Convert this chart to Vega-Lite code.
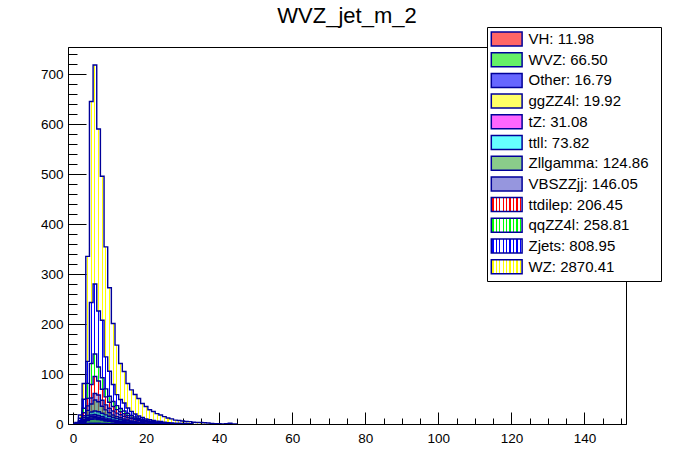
{
  "$schema": "https://vega.github.io/schema/vega-lite/v6.json",
  "description": "WVZ_jet_m_2 stacked histogram",
  "width": 558,
  "height": 377,
  "autosize": "none",
  "padding": {"left": 68, "top": 47, "right": 70, "bottom": 48},
  "background": "white",
  "title": {"text": "WVZ_jet_m_2", "fontSize": 22, "fontWeight": "normal", "color": "black", "anchor": "middle", "baseline": "alphabetic", "offset": -18},
  "datasets": {
    "series": [
      {"s": "VH", "k": 1}, {"s": "WVZ", "k": 2}, {"s": "Other", "k": 3}, {"s": "ggZZ4l", "k": 4},
      {"s": "tZ", "k": 5}, {"s": "ttll", "k": 6}, {"s": "Zllgamma", "k": 7}, {"s": "VBSZZjj", "k": 8},
      {"s": "ttdilep", "k": 9}, {"s": "qqZZ4l", "k": 10}, {"s": "Zjets", "k": 11}, {"s": "WZ", "k": 12}
    ]
  },
  "data": {
    "values": [
      {"s":"VH","b":0,"v":0},{"s":"VH","b":1,"v":0},{"s":"VH","b":2,"v":0.2},{"s":"VH","b":3,"v":0.5},{"s":"VH","b":4,"v":1},{"s":"VH","b":5,"v":1.5},{"s":"VH","b":6,"v":1.6},{"s":"VH","b":7,"v":1.4},{"s":"VH","b":8,"v":1.2},{"s":"VH","b":9,"v":1},{"s":"VH","b":10,"v":0.8},{"s":"VH","b":11,"v":0.7},{"s":"VH","b":12,"v":0.6},{"s":"VH","b":13,"v":0.5},{"s":"VH","b":14,"v":0.4},{"s":"VH","b":15,"v":0.3},{"s":"VH","b":16,"v":0.2},{"s":"VH","b":17,"v":0.1},{"s":"VH","b":18,"v":0},
      {"s":"WVZ","b":0,"v":0},{"s":"WVZ","b":1,"v":0},{"s":"WVZ","b":2,"v":1},{"s":"WVZ","b":3,"v":3},{"s":"WVZ","b":4,"v":6},{"s":"WVZ","b":5,"v":8},{"s":"WVZ","b":6,"v":8.5},{"s":"WVZ","b":7,"v":7.5},{"s":"WVZ","b":8,"v":6.5},{"s":"WVZ","b":9,"v":5},{"s":"WVZ","b":10,"v":4.5},{"s":"WVZ","b":11,"v":3.5},{"s":"WVZ","b":12,"v":3},{"s":"WVZ","b":13,"v":2.5},{"s":"WVZ","b":14,"v":2},{"s":"WVZ","b":15,"v":1.5},{"s":"WVZ","b":16,"v":1.2},{"s":"WVZ","b":17,"v":1},{"s":"WVZ","b":18,"v":0.8},{"s":"WVZ","b":19,"v":0.6},{"s":"WVZ","b":20,"v":0.5},{"s":"WVZ","b":21,"v":0},
      {"s":"Other","b":0,"v":0},{"s":"Other","b":1,"v":0},{"s":"Other","b":2,"v":0},{"s":"Other","b":3,"v":1},{"s":"Other","b":4,"v":2},{"s":"Other","b":5,"v":2.5},{"s":"Other","b":6,"v":2.5},{"s":"Other","b":7,"v":2},{"s":"Other","b":8,"v":1.7},{"s":"Other","b":9,"v":1.3},{"s":"Other","b":10,"v":1},{"s":"Other","b":11,"v":0.8},{"s":"Other","b":12,"v":0.6},{"s":"Other","b":13,"v":0.5},{"s":"Other","b":14,"v":0.4},{"s":"Other","b":15,"v":0.3},{"s":"Other","b":16,"v":0.2},{"s":"Other","b":17,"v":0},
      {"s":"ggZZ4l","b":0,"v":0},{"s":"ggZZ4l","b":1,"v":0},{"s":"ggZZ4l","b":2,"v":0.3},{"s":"ggZZ4l","b":3,"v":1},{"s":"ggZZ4l","b":4,"v":2.2},{"s":"ggZZ4l","b":5,"v":3},{"s":"ggZZ4l","b":6,"v":3},{"s":"ggZZ4l","b":7,"v":2.5},{"s":"ggZZ4l","b":8,"v":2},{"s":"ggZZ4l","b":9,"v":1.6},{"s":"ggZZ4l","b":10,"v":1.2},{"s":"ggZZ4l","b":11,"v":1},{"s":"ggZZ4l","b":12,"v":0.7},{"s":"ggZZ4l","b":13,"v":0.5},{"s":"ggZZ4l","b":14,"v":0.4},{"s":"ggZZ4l","b":15,"v":0.3},{"s":"ggZZ4l","b":16,"v":0.2},{"s":"ggZZ4l","b":17,"v":0},
      {"s":"tZ","b":0,"v":0},{"s":"tZ","b":1,"v":0},{"s":"tZ","b":2,"v":0},{"s":"tZ","b":3,"v":1},{"s":"tZ","b":4,"v":2},{"s":"tZ","b":5,"v":3},{"s":"tZ","b":6,"v":3.5},{"s":"tZ","b":7,"v":3.5},{"s":"tZ","b":8,"v":3.2},{"s":"tZ","b":9,"v":2.8},{"s":"tZ","b":10,"v":2.4},{"s":"tZ","b":11,"v":2},{"s":"tZ","b":12,"v":1.7},{"s":"tZ","b":13,"v":1.4},{"s":"tZ","b":14,"v":1.2},{"s":"tZ","b":15,"v":1},{"s":"tZ","b":16,"v":0.8},{"s":"tZ","b":17,"v":0.6},{"s":"tZ","b":18,"v":0.5},{"s":"tZ","b":19,"v":0.3},{"s":"tZ","b":20,"v":0},
      {"s":"ttll","b":0,"v":0},{"s":"ttll","b":1,"v":0},{"s":"ttll","b":2,"v":0},{"s":"ttll","b":3,"v":2},{"s":"ttll","b":4,"v":4},{"s":"ttll","b":5,"v":6},{"s":"ttll","b":6,"v":7},{"s":"ttll","b":7,"v":7.5},{"s":"ttll","b":8,"v":7},{"s":"ttll","b":9,"v":6.5},{"s":"ttll","b":10,"v":5.5},{"s":"ttll","b":11,"v":5},{"s":"ttll","b":12,"v":4.2},{"s":"ttll","b":13,"v":3.6},{"s":"ttll","b":14,"v":3},{"s":"ttll","b":15,"v":2.6},{"s":"ttll","b":16,"v":2.2},{"s":"ttll","b":17,"v":1.8},{"s":"ttll","b":18,"v":1.5},{"s":"ttll","b":19,"v":1.2},{"s":"ttll","b":20,"v":1},{"s":"ttll","b":21,"v":0.8},{"s":"ttll","b":22,"v":0.6},{"s":"ttll","b":23,"v":0.5},{"s":"ttll","b":24,"v":0.3},{"s":"ttll","b":25,"v":0},
      {"s":"Zllgamma","b":0,"v":0},{"s":"Zllgamma","b":1,"v":0},{"s":"Zllgamma","b":2,"v":1},{"s":"Zllgamma","b":3,"v":4},{"s":"Zllgamma","b":4,"v":10},{"s":"Zllgamma","b":5,"v":16},{"s":"Zllgamma","b":6,"v":22},{"s":"Zllgamma","b":7,"v":20},{"s":"Zllgamma","b":8,"v":14},{"s":"Zllgamma","b":9,"v":10},{"s":"Zllgamma","b":10,"v":7},{"s":"Zllgamma","b":11,"v":5},{"s":"Zllgamma","b":12,"v":4},{"s":"Zllgamma","b":13,"v":3.6},{"s":"Zllgamma","b":14,"v":2.5},{"s":"Zllgamma","b":15,"v":2},{"s":"Zllgamma","b":16,"v":1.5},{"s":"Zllgamma","b":17,"v":1},{"s":"Zllgamma","b":18,"v":0.8},{"s":"Zllgamma","b":19,"v":0.5},{"s":"Zllgamma","b":20,"v":0},
      {"s":"VBSZZjj","b":0,"v":0},{"s":"VBSZZjj","b":1,"v":0},{"s":"VBSZZjj","b":2,"v":1},{"s":"VBSZZjj","b":3,"v":4},{"s":"VBSZZjj","b":4,"v":9},{"s":"VBSZZjj","b":5,"v":12},{"s":"VBSZZjj","b":6,"v":13},{"s":"VBSZZjj","b":7,"v":13.5},{"s":"VBSZZjj","b":8,"v":12},{"s":"VBSZZjj","b":9,"v":10},{"s":"VBSZZjj","b":10,"v":9},{"s":"VBSZZjj","b":11,"v":8},{"s":"VBSZZjj","b":12,"v":7},{"s":"VBSZZjj","b":13,"v":6},{"s":"VBSZZjj","b":14,"v":5.5},{"s":"VBSZZjj","b":15,"v":5},{"s":"VBSZZjj","b":16,"v":4.5},{"s":"VBSZZjj","b":17,"v":4},{"s":"VBSZZjj","b":18,"v":3.5},{"s":"VBSZZjj","b":19,"v":3},{"s":"VBSZZjj","b":20,"v":2.5},{"s":"VBSZZjj","b":21,"v":2.2},{"s":"VBSZZjj","b":22,"v":2},{"s":"VBSZZjj","b":23,"v":1.8},{"s":"VBSZZjj","b":24,"v":1.5},{"s":"VBSZZjj","b":25,"v":1.3},{"s":"VBSZZjj","b":26,"v":1.1},{"s":"VBSZZjj","b":27,"v":1},{"s":"VBSZZjj","b":28,"v":0.8},{"s":"VBSZZjj","b":29,"v":0.6},{"s":"VBSZZjj","b":30,"v":0.5},{"s":"VBSZZjj","b":31,"v":0.4},{"s":"VBSZZjj","b":32,"v":0.3},{"s":"VBSZZjj","b":33,"v":0},
      {"s":"ttdilep","b":0,"v":0},{"s":"ttdilep","b":1,"v":0},{"s":"ttdilep","b":2,"v":1},{"s":"ttdilep","b":3,"v":6},{"s":"ttdilep","b":4,"v":15},{"s":"ttdilep","b":5,"v":27},{"s":"ttdilep","b":6,"v":34},{"s":"ttdilep","b":7,"v":28},{"s":"ttdilep","b":8,"v":22},{"s":"ttdilep","b":9,"v":16},{"s":"ttdilep","b":10,"v":12},{"s":"ttdilep","b":11,"v":9},{"s":"ttdilep","b":12,"v":7},{"s":"ttdilep","b":13,"v":6},{"s":"ttdilep","b":14,"v":5},{"s":"ttdilep","b":15,"v":4},{"s":"ttdilep","b":16,"v":3},{"s":"ttdilep","b":17,"v":2.5},{"s":"ttdilep","b":18,"v":2},{"s":"ttdilep","b":19,"v":1.7},{"s":"ttdilep","b":20,"v":1.4},{"s":"ttdilep","b":21,"v":1.1},{"s":"ttdilep","b":22,"v":0.9},{"s":"ttdilep","b":23,"v":0.7},{"s":"ttdilep","b":24,"v":0.5},{"s":"ttdilep","b":25,"v":0.4},{"s":"ttdilep","b":26,"v":0},
      {"s":"qqZZ4l","b":0,"v":0},{"s":"qqZZ4l","b":1,"v":0},{"s":"qqZZ4l","b":2,"v":2},{"s":"qqZZ4l","b":3,"v":9},{"s":"qqZZ4l","b":4,"v":30},{"s":"qqZZ4l","b":5,"v":42},{"s":"qqZZ4l","b":6,"v":45},{"s":"qqZZ4l","b":7,"v":28},{"s":"qqZZ4l","b":8,"v":23},{"s":"qqZZ4l","b":9,"v":16},{"s":"qqZZ4l","b":10,"v":12},{"s":"qqZZ4l","b":11,"v":10},{"s":"qqZZ4l","b":12,"v":8},{"s":"qqZZ4l","b":13,"v":6.5},{"s":"qqZZ4l","b":14,"v":5.5},{"s":"qqZZ4l","b":15,"v":4.5},{"s":"qqZZ4l","b":16,"v":3.5},{"s":"qqZZ4l","b":17,"v":3},{"s":"qqZZ4l","b":18,"v":2.5},{"s":"qqZZ4l","b":19,"v":2},{"s":"qqZZ4l","b":20,"v":1.6},{"s":"qqZZ4l","b":21,"v":1.3},{"s":"qqZZ4l","b":22,"v":1},{"s":"qqZZ4l","b":23,"v":0.8},{"s":"qqZZ4l","b":24,"v":0.6},{"s":"qqZZ4l","b":25,"v":0.5},{"s":"qqZZ4l","b":26,"v":0},
      {"s":"Zjets","b":0,"v":0},{"s":"Zjets","b":1,"v":1},{"s":"Zjets","b":2,"v":5},{"s":"Zjets","b":3,"v":18},{"s":"Zjets","b":4,"v":44},{"s":"Zjets","b":5,"v":122},{"s":"Zjets","b":6,"v":140},{"s":"Zjets","b":7,"v":112},{"s":"Zjets","b":8,"v":115},{"s":"Zjets","b":9,"v":64},{"s":"Zjets","b":10,"v":50},{"s":"Zjets","b":11,"v":34},{"s":"Zjets","b":12,"v":22},{"s":"Zjets","b":13,"v":18},{"s":"Zjets","b":14,"v":16},{"s":"Zjets","b":15,"v":10.5},{"s":"Zjets","b":16,"v":8},{"s":"Zjets","b":17,"v":6},{"s":"Zjets","b":18,"v":4.5},{"s":"Zjets","b":19,"v":3.7},{"s":"Zjets","b":20,"v":3},{"s":"Zjets","b":21,"v":3},{"s":"Zjets","b":22,"v":2.5},{"s":"Zjets","b":23,"v":2},{"s":"Zjets","b":24,"v":2},{"s":"Zjets","b":25,"v":1.5},{"s":"Zjets","b":26,"v":1.5},{"s":"Zjets","b":27,"v":1.2},{"s":"Zjets","b":28,"v":1},{"s":"Zjets","b":29,"v":0.8},{"s":"Zjets","b":30,"v":0.6},{"s":"Zjets","b":31,"v":0.5},{"s":"Zjets","b":32,"v":0.4},{"s":"Zjets","b":33,"v":0},
      {"s":"WZ","b":0,"v":0},{"s":"WZ","b":1,"v":2},{"s":"WZ","b":2,"v":6.5},{"s":"WZ","b":3,"v":31.5},{"s":"WZ","b":4,"v":210},{"s":"WZ","b":5,"v":402},{"s":"WZ","b":6,"v":438},{"s":"WZ","b":7,"v":364},{"s":"WZ","b":8,"v":288},{"s":"WZ","b":9,"v":220},{"s":"WZ","b":10,"v":167},{"s":"WZ","b":11,"v":122},{"s":"WZ","b":12,"v":99},{"s":"WZ","b":13,"v":72},{"s":"WZ","b":14,"v":63},{"s":"WZ","b":15,"v":49},{"s":"WZ","b":16,"v":43},{"s":"WZ","b":17,"v":39},{"s":"WZ","b":18,"v":35},{"s":"WZ","b":19,"v":28},{"s":"WZ","b":20,"v":25},{"s":"WZ","b":21,"v":20},{"s":"WZ","b":22,"v":18},{"s":"WZ","b":23,"v":15},{"s":"WZ","b":24,"v":13},{"s":"WZ","b":25,"v":11},{"s":"WZ","b":26,"v":9.5},{"s":"WZ","b":27,"v":8},{"s":"WZ","b":28,"v":6},{"s":"WZ","b":29,"v":5.5},{"s":"WZ","b":30,"v":5},{"s":"WZ","b":31,"v":4},{"s":"WZ","b":32,"v":4},{"s":"WZ","b":33,"v":3.5},{"s":"WZ","b":34,"v":3},{"s":"WZ","b":35,"v":3},{"s":"WZ","b":36,"v":2.5},{"s":"WZ","b":37,"v":2},{"s":"WZ","b":38,"v":1},{"s":"WZ","b":39,"v":0.5},{"s":"WZ","b":40,"v":0.5},{"s":"WZ","b":41,"v":0.3},{"s":"WZ","b":42,"v":0.5},{"s":"WZ","b":43,"v":1.5},{"s":"WZ","b":44,"v":0.2},{"s":"WZ","b":45,"v":0}
    ]
  },
  "transform": [
    {"lookup": "s", "from": {"data": {"name": "series"}, "key": "s", "fields": ["k"]}},
    {"stack": "v", "groupby": ["b"], "sort": [{"field": "k", "order": "ascending"}], "as": ["v0", "v1"]}
  ],
  "encoding": {
    "x": {
      "field": "b",
      "type": "quantitative",
      "scale": {"domain": [0, 150], "nice": false, "zero": false},
      "axis": {
        "title": null,
        "values": [0,5,10,15,20,25,30,35,40,45,50,55,60,65,70,75,80,85,90,95,100,105,110,115,120,125,130,135,140,145,150],
        "labelExpr": "datum.value % 20 === 0 ? datum.label : ''",
        "tickSize": {"condition": {"test": "datum.value % 20 === 0", "value": -12}, "value": -6},
        "labelPadding": 19.5,
        "labelOverlap": false,
        "labelFlush": false,
        "labelBound": false
      }
    },
    "y": {
      "field": "v1",
      "type": "quantitative",
      "scale": {"domain": [0, 754], "nice": false},
      "axis": {
        "title": null,
        "values": [0,20,40,60,80,100,120,140,160,180,200,220,240,260,280,300,320,340,360,380,400,420,440,460,480,500,520,540,560,580,600,620,640,660,680,700,720,740],
        "labelExpr": "datum.value % 100 === 0 ? datum.label : ''",
        "tickSize": {"condition": {"test": "datum.value % 100 === 0", "value": -18}, "value": -9},
        "labelPadding": 23,
        "labelOverlap": false,
        "labelFlush": false,
        "labelBound": false
      }
    }
  },
  "layer": [
    {
      "mark": {"type": "bar", "width": 3.72, "clip": true},
      "encoding": {
        "y2": {"datum": 0},
        "fill": {
          "field": "s",
          "type": "nominal",
          "legend": null,
          "scale": {
            "domain": ["VH", "WVZ", "Other", "ggZZ4l", "tZ", "ttll", "Zllgamma", "VBSZZjj", "ttdilep", "qqZZ4l", "Zjets", "WZ"],
            "range": [
              "rgba(255,0,0,0.45)", "rgba(0,230,0,0.45)", "rgba(0,0,255,0.45)", "rgba(255,255,0,0.45)",
              "rgba(255,0,255,0.45)", "rgba(0,255,255,0.45)", "rgba(60,170,60,0.45)", "rgba(80,80,200,0.45)",
              {"expr": "{gradient:'linear',x1:0,y1:0,x2:1,y2:0,stops:[{offset:0,color:'rgba(0,0,0,0)'},{offset:0.36,color:'rgba(0,0,0,0)'},{offset:0.36,color:'#ff0000'},{offset:0.64,color:'#ff0000'},{offset:0.64,color:'rgba(0,0,0,0)'},{offset:1,color:'rgba(0,0,0,0)'}]}"},
              {"expr": "{gradient:'linear',x1:0,y1:0,x2:1,y2:0,stops:[{offset:0,color:'rgba(0,0,0,0)'},{offset:0.36,color:'rgba(0,0,0,0)'},{offset:0.36,color:'#00ff00'},{offset:0.64,color:'#00ff00'},{offset:0.64,color:'rgba(0,0,0,0)'},{offset:1,color:'rgba(0,0,0,0)'}]}"},
              {"expr": "{gradient:'linear',x1:0,y1:0,x2:1,y2:0,stops:[{offset:0,color:'rgba(0,0,0,0)'},{offset:0.36,color:'rgba(0,0,0,0)'},{offset:0.36,color:'#0000ff'},{offset:0.64,color:'#0000ff'},{offset:0.64,color:'rgba(0,0,0,0)'},{offset:1,color:'rgba(0,0,0,0)'}]}"},
              {"expr": "{gradient:'linear',x1:0,y1:0,x2:1,y2:0,stops:[{offset:0,color:'rgba(0,0,0,0)'},{offset:0.36,color:'rgba(0,0,0,0)'},{offset:0.36,color:'#ffff00'},{offset:0.64,color:'#ffff00'},{offset:0.64,color:'rgba(0,0,0,0)'},{offset:1,color:'rgba(0,0,0,0)'}]}"}
            ]
          }
        },
        "order": {"field": "k", "type": "quantitative", "sort": "descending"}
      }
    },
    {
      "mark": {"type": "line", "interpolate": "step", "stroke": "#000099", "strokeWidth": 1.4, "clip": true},
      "encoding": {
        "detail": {"field": "s", "type": "nominal"}
      }
    },
    {
      "transform": [{"filter": "false"}],
      "mark": {"type": "square", "filled": true, "opacity": 1},
      "encoding": {
        "fill": {
          "field": "s",
          "type": "nominal",
          "scale": {
            "domain": ["VH", "WVZ", "Other", "ggZZ4l", "tZ", "ttll", "Zllgamma", "VBSZZjj", "ttdilep", "qqZZ4l", "Zjets", "WZ"],
            "range": [
              "rgba(255,0,0,0.6)", "rgba(0,230,0,0.6)", "rgba(0,0,255,0.6)", "rgba(255,255,0,0.6)",
              "rgba(255,0,255,0.6)", "rgba(0,255,255,0.6)", "rgba(60,170,60,0.6)", "rgba(80,80,200,0.6)",
              {"expr": "{gradient:'linear',x1:0,y1:0,x2:1,y2:0,stops:[{offset:0,color:'#fff'},{offset:0.035,color:'#fff'},{offset:0.035,color:'#ff0000'},{offset:0.075,color:'#ff0000'},{offset:0.075,color:'#fff'},{offset:0.146,color:'#fff'},{offset:0.146,color:'#ff0000'},{offset:0.186,color:'#ff0000'},{offset:0.186,color:'#fff'},{offset:0.257,color:'#fff'},{offset:0.257,color:'#ff0000'},{offset:0.297,color:'#ff0000'},{offset:0.297,color:'#fff'},{offset:0.368,color:'#fff'},{offset:0.368,color:'#ff0000'},{offset:0.408,color:'#ff0000'},{offset:0.408,color:'#fff'},{offset:0.479,color:'#fff'},{offset:0.479,color:'#ff0000'},{offset:0.519,color:'#ff0000'},{offset:0.519,color:'#fff'},{offset:0.59,color:'#fff'},{offset:0.59,color:'#ff0000'},{offset:0.63,color:'#ff0000'},{offset:0.63,color:'#fff'},{offset:0.701,color:'#fff'},{offset:0.701,color:'#ff0000'},{offset:0.741,color:'#ff0000'},{offset:0.741,color:'#fff'},{offset:0.813,color:'#fff'},{offset:0.813,color:'#ff0000'},{offset:0.853,color:'#ff0000'},{offset:0.853,color:'#fff'},{offset:0.924,color:'#fff'},{offset:0.924,color:'#ff0000'},{offset:0.964,color:'#ff0000'},{offset:0.964,color:'#fff'},{offset:1,color:'#fff'}]}"},
              {"expr": "{gradient:'linear',x1:0,y1:0,x2:1,y2:0,stops:[{offset:0,color:'#fff'},{offset:0.035,color:'#fff'},{offset:0.035,color:'#00ff00'},{offset:0.075,color:'#00ff00'},{offset:0.075,color:'#fff'},{offset:0.146,color:'#fff'},{offset:0.146,color:'#00ff00'},{offset:0.186,color:'#00ff00'},{offset:0.186,color:'#fff'},{offset:0.257,color:'#fff'},{offset:0.257,color:'#00ff00'},{offset:0.297,color:'#00ff00'},{offset:0.297,color:'#fff'},{offset:0.368,color:'#fff'},{offset:0.368,color:'#00ff00'},{offset:0.408,color:'#00ff00'},{offset:0.408,color:'#fff'},{offset:0.479,color:'#fff'},{offset:0.479,color:'#00ff00'},{offset:0.519,color:'#00ff00'},{offset:0.519,color:'#fff'},{offset:0.59,color:'#fff'},{offset:0.59,color:'#00ff00'},{offset:0.63,color:'#00ff00'},{offset:0.63,color:'#fff'},{offset:0.701,color:'#fff'},{offset:0.701,color:'#00ff00'},{offset:0.741,color:'#00ff00'},{offset:0.741,color:'#fff'},{offset:0.813,color:'#fff'},{offset:0.813,color:'#00ff00'},{offset:0.853,color:'#00ff00'},{offset:0.853,color:'#fff'},{offset:0.924,color:'#fff'},{offset:0.924,color:'#00ff00'},{offset:0.964,color:'#00ff00'},{offset:0.964,color:'#fff'},{offset:1,color:'#fff'}]}"},
              {"expr": "{gradient:'linear',x1:0,y1:0,x2:1,y2:0,stops:[{offset:0,color:'#fff'},{offset:0.035,color:'#fff'},{offset:0.035,color:'#0000ff'},{offset:0.075,color:'#0000ff'},{offset:0.075,color:'#fff'},{offset:0.146,color:'#fff'},{offset:0.146,color:'#0000ff'},{offset:0.186,color:'#0000ff'},{offset:0.186,color:'#fff'},{offset:0.257,color:'#fff'},{offset:0.257,color:'#0000ff'},{offset:0.297,color:'#0000ff'},{offset:0.297,color:'#fff'},{offset:0.368,color:'#fff'},{offset:0.368,color:'#0000ff'},{offset:0.408,color:'#0000ff'},{offset:0.408,color:'#fff'},{offset:0.479,color:'#fff'},{offset:0.479,color:'#0000ff'},{offset:0.519,color:'#0000ff'},{offset:0.519,color:'#fff'},{offset:0.59,color:'#fff'},{offset:0.59,color:'#0000ff'},{offset:0.63,color:'#0000ff'},{offset:0.63,color:'#fff'},{offset:0.701,color:'#fff'},{offset:0.701,color:'#0000ff'},{offset:0.741,color:'#0000ff'},{offset:0.741,color:'#fff'},{offset:0.813,color:'#fff'},{offset:0.813,color:'#0000ff'},{offset:0.853,color:'#0000ff'},{offset:0.853,color:'#fff'},{offset:0.924,color:'#fff'},{offset:0.924,color:'#0000ff'},{offset:0.964,color:'#0000ff'},{offset:0.964,color:'#fff'},{offset:1,color:'#fff'}]}"},
              {"expr": "{gradient:'linear',x1:0,y1:0,x2:1,y2:0,stops:[{offset:0,color:'#fff'},{offset:0.035,color:'#fff'},{offset:0.035,color:'#ffff00'},{offset:0.075,color:'#ffff00'},{offset:0.075,color:'#fff'},{offset:0.146,color:'#fff'},{offset:0.146,color:'#ffff00'},{offset:0.186,color:'#ffff00'},{offset:0.186,color:'#fff'},{offset:0.257,color:'#fff'},{offset:0.257,color:'#ffff00'},{offset:0.297,color:'#ffff00'},{offset:0.297,color:'#fff'},{offset:0.368,color:'#fff'},{offset:0.368,color:'#ffff00'},{offset:0.408,color:'#ffff00'},{offset:0.408,color:'#fff'},{offset:0.479,color:'#fff'},{offset:0.479,color:'#ffff00'},{offset:0.519,color:'#ffff00'},{offset:0.519,color:'#fff'},{offset:0.59,color:'#fff'},{offset:0.59,color:'#ffff00'},{offset:0.63,color:'#ffff00'},{offset:0.63,color:'#fff'},{offset:0.701,color:'#fff'},{offset:0.701,color:'#ffff00'},{offset:0.741,color:'#ffff00'},{offset:0.741,color:'#fff'},{offset:0.813,color:'#fff'},{offset:0.813,color:'#ffff00'},{offset:0.853,color:'#ffff00'},{offset:0.853,color:'#fff'},{offset:0.924,color:'#fff'},{offset:0.924,color:'#ffff00'},{offset:0.964,color:'#ffff00'},{offset:0.964,color:'#fff'},{offset:1,color:'#fff'}]}"}
            ]
          },
          "legend": {
            "title": null,
            "orient": "none",
            "legendX": 419,
            "legendY": -20,
            "fillColor": "white",
            "strokeColor": "black",
            "padding": 4,
            "symbolType": "M-1.1,-1H3.3V1H-1.1Z",
            "symbolSize": 196,
            "symbolOpacity": 1,
            "symbolStrokeColor": "#000099",
            "symbolStrokeWidth": 1.5,
            "labelFontSize": 15,
            "labelOffset": 21.5,
            "labelColor": "black",
            "labelLimit": 300,
            "rowPadding": 0.7,
            "labelExpr": "{'VH':'VH: 11.98','WVZ':'WVZ: 66.50','Other':'Other: 16.79','ggZZ4l':'ggZZ4l: 19.92','tZ':'tZ: 31.08','ttll':'ttll: 73.82','Zllgamma':'Zllgamma: 124.86','VBSZZjj':'VBSZZjj: 146.05','ttdilep':'ttdilep: 206.45','qqZZ4l':'qqZZ4l: 258.81','Zjets':'Zjets: 808.95','WZ':'WZ: 2870.41'}[datum.label] + '  \u200b'"
          }
        }
      }
    }
  ],
  "resolve": {"scale": {"fill": "independent"}},
  "config": {
    "font": "Liberation Sans",
    "view": {"stroke": "black", "strokeWidth": 1},
    "axis": {
      "grid": false,
      "domainColor": "black",
      "domainWidth": 1,
      "tickColor": "black",
      "tickWidth": 1,
      "labelColor": "black",
      "labelFontSize": 13.5
    }
  }
}
